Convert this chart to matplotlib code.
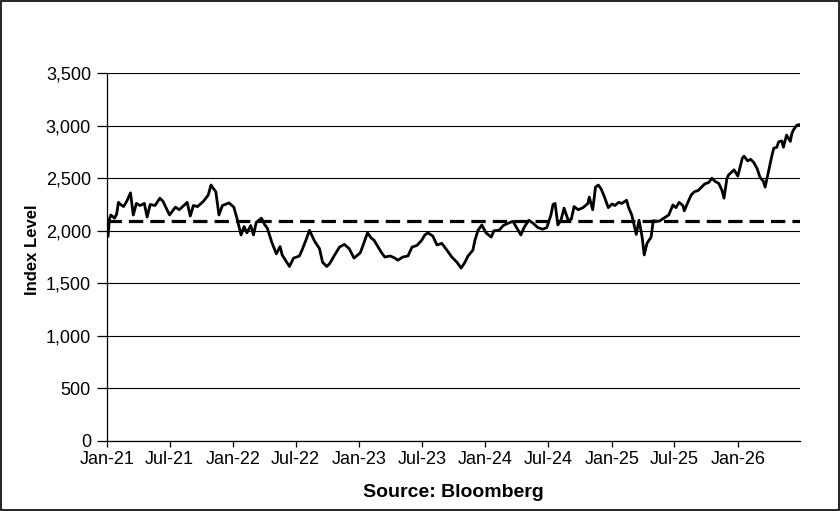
import matplotlib
matplotlib.use("Agg")
import matplotlib.pyplot as plt
import matplotlib.dates as mdates
import matplotlib.ticker as mticker
import pandas as pd

plt.rcParams['font.family'] = ['Liberation Sans', 'DejaVu Sans']

# index level (approximate)
dates = [
    "2021-01-04", "2021-01-08", "2021-01-12", "2021-01-23", "2021-01-29", "2021-02-03",
    "2021-02-09", "2021-02-18", "2021-02-27", "2021-03-10", "2021-03-18", "2021-03-27",
    "2021-04-07", "2021-04-19", "2021-04-27", "2021-05-06", "2021-05-20", "2021-06-03",
    "2021-06-12", "2021-07-01", "2021-07-18", "2021-07-29", "2021-08-21", "2021-08-30",
    "2021-09-08", "2021-09-20", "2021-10-07", "2021-10-21", "2021-10-29", "2021-11-12",
    "2021-11-21", "2021-12-01", "2021-12-20", "2022-01-03", "2022-01-12", "2022-01-24",
    "2022-02-02", "2022-02-10", "2022-02-21", "2022-03-01", "2022-03-09", "2022-03-24",
    "2022-04-02", "2022-04-10", "2022-04-22", "2022-05-06", "2022-05-17", "2022-05-23",
    "2022-06-13", "2022-06-25", "2022-07-12", "2022-07-20", "2022-08-02", "2022-08-10",
    "2022-08-25", "2022-09-08", "2022-09-17", "2022-09-29", "2022-10-08", "2022-10-22",
    "2022-11-05", "2022-11-19", "2022-12-03", "2022-12-17", "2023-01-04", "2023-01-12",
    "2023-01-25", "2023-02-05", "2023-02-13", "2023-03-07", "2023-03-16", "2023-04-01",
    "2023-04-14", "2023-04-23", "2023-05-07", "2023-05-22", "2023-06-03", "2023-06-17",
    "2023-07-01", "2023-07-10", "2023-07-19", "2023-08-02", "2023-08-14", "2023-08-28",
    "2023-09-12", "2023-09-26", "2023-10-11", "2023-10-23", "2023-11-03", "2023-11-12",
    "2023-11-26", "2023-12-02", "2023-12-11", "2023-12-22", "2024-01-03", "2024-01-18",
    "2024-01-26", "2024-02-10", "2024-02-22", "2024-03-06", "2024-03-21", "2024-04-13",
    "2024-04-22", "2024-05-06", "2024-05-19", "2024-06-01", "2024-06-15", "2024-06-27",
    "2024-07-09", "2024-07-15", "2024-07-21", "2024-07-29", "2024-08-07", "2024-08-16",
    "2024-08-28", "2024-09-06", "2024-09-14", "2024-09-26", "2024-10-10", "2024-10-24",
    "2024-10-28", "2024-11-07", "2024-11-15", "2024-11-23", "2024-12-01", "2024-12-10",
    "2024-12-22", "2025-01-02", "2025-01-10", "2025-01-21", "2025-01-30", "2025-02-13",
    "2025-02-19", "2025-02-28", "2025-03-08", "2025-03-13", "2025-03-21", "2025-03-30",
    "2025-04-05", "2025-04-13", "2025-04-25", "2025-05-01", "2025-05-18", "2025-06-06",
    "2025-06-15", "2025-06-27", "2025-07-06", "2025-07-15", "2025-07-26", "2025-07-30",
    "2025-08-10", "2025-08-19", "2025-08-28", "2025-09-09", "2025-09-18", "2025-09-27",
    "2025-10-09", "2025-10-18", "2025-10-27", "2025-11-07", "2025-11-16", "2025-11-22",
    "2025-11-30", "2025-12-05", "2025-12-21", "2026-01-01", "2026-01-09", "2026-01-14",
    "2026-01-19", "2026-01-29", "2026-02-07", "2026-02-16", "2026-02-26", "2026-03-06",
    "2026-03-16", "2026-03-21", "2026-03-31", "2026-04-10", "2026-04-15", "2026-04-24",
    "2026-04-29", "2026-05-08", "2026-05-13", "2026-05-22", "2026-06-02", "2026-06-06",
    "2026-06-11", "2026-06-21", "2026-06-29",
]
index_level = [
    1950, 2110, 2150, 2120, 2160, 2270,
    2250, 2230, 2280, 2360, 2150, 2260,
    2240, 2260, 2130, 2250, 2240, 2310,
    2280, 2150, 2225, 2200, 2270, 2140,
    2240, 2230, 2280, 2340, 2435, 2370,
    2150, 2240, 2265, 2225, 2120, 1960,
    2040, 1980, 2050, 1960, 2080, 2120,
    2060, 2025, 1900, 1780, 1850, 1770,
    1660, 1740, 1760, 1820, 1930, 2005,
    1900, 1830, 1700, 1660, 1690, 1770,
    1845, 1870, 1830, 1740, 1790, 1860,
    1980, 1930, 1910, 1790, 1750, 1760,
    1740, 1720, 1750, 1760, 1845, 1860,
    1910, 1960, 1980, 1950, 1865, 1880,
    1815, 1750, 1700, 1645, 1700, 1760,
    1815, 1910, 2005, 2055, 1980, 1940,
    2000, 2005, 2050, 2070, 2090, 1960,
    2030, 2100, 2070, 2030, 2015, 2030,
    2150, 2250, 2260, 2055, 2100, 2215,
    2100, 2110, 2230, 2200, 2220, 2260,
    2320, 2200, 2415, 2435, 2400, 2330,
    2220, 2255, 2240, 2270, 2260, 2290,
    2220, 2150, 2035, 1965, 2100, 1940,
    1770, 1880, 1940, 2095, 2090, 2130,
    2150, 2245, 2220, 2270, 2240, 2190,
    2275, 2340, 2370, 2385, 2415, 2445,
    2460, 2500, 2470, 2450, 2385, 2310,
    2490, 2530, 2580, 2520, 2625, 2690,
    2710, 2665, 2680, 2650, 2590, 2510,
    2470, 2415, 2570, 2720, 2785, 2795,
    2845, 2855, 2795, 2910, 2850, 2920,
    2960, 3005, 3010,
]
average_level = 2090

x = pd.to_datetime(dates)

fig = plt.figure(figsize=(8.4, 5.11), dpi=100)
ax = fig.add_axes([0.1274, 0.137, 0.8250, 0.720])

ax.plot(x, index_level, color='black', linewidth=2.0, zorder=3)
ax.axhline(average_level, color='black', linewidth=2.3, linestyle=(0, (4.5, 2.2)), zorder=2)

ax.set_ylim(0, 3500)
ax.set_yticks(range(0, 3501, 500))
ax.yaxis.set_major_formatter(mticker.StrMethodFormatter('{x:,.0f}'))
ax.set_xlim(pd.Timestamp("2021-01-01"), pd.Timestamp("2026-06-30"))
ax.xaxis.set_major_locator(mdates.MonthLocator(bymonth=[1, 7]))
ax.xaxis.set_major_formatter(mdates.DateFormatter('%b-%y'))

ax.grid(axis='y', color='black', linewidth=0.8)
ax.set_axisbelow(True)
for s in ['top', 'right']:
    ax.spines[s].set_visible(False)
ax.spines['left'].set_linewidth(0.9)
ax.spines['bottom'].set_linewidth(0.9)
ax.tick_params(direction='out', width=0.9, labelsize=13, colors='black')
ax.tick_params(axis='y', length=7, pad=4.5)
ax.tick_params(axis='x', length=4.5, pad=3)

ax.set_ylabel("Index Level", fontsize=12, fontweight='bold')
ax.yaxis.set_label_coords(-0.0966, 0.52)
ax.set_xlabel("Source: Bloomberg", fontsize=14, fontweight='bold', labelpad=11)

fig.patches.append(plt.Rectangle((0.0006, 0.001), 0.9988, 0.998, transform=fig.transFigure,
                                 fill=False, edgecolor='black', linewidth=1.2))

fig.savefig('out.png', dpi=100)
